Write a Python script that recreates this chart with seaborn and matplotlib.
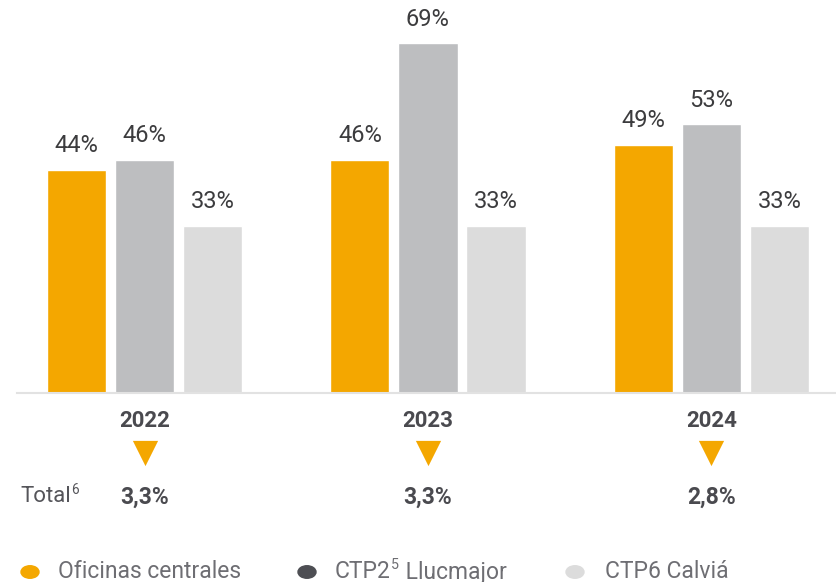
import matplotlib
matplotlib.use("Agg")
import matplotlib.pyplot as plt
import matplotlib.transforms as mtransforms
import seaborn as sns
import pandas as pd

years = ["2022", "2023", "2024"]
series = ["Oficinas centrales", "CTP2⁵ Llucmajor", "CTP6 Calviá"]
oficinas = [44, 46, 49]
ctp2 = [46, 69, 53]
ctp6 = [33, 33, 33]
totals = ["3,3%", "3,3%", "2,8%"]

bar_colors = ["#F4A700", "#BDBEC0", "#DCDCDC"]
legend_colors = ["#F4A700", "#4D4E53", "#DCDCDC"]

sns.set_theme(style="white")
plt.rcParams["font.family"] = ["Roboto", "DejaVu Sans"]

df = pd.DataFrame({
    "year": years * 3,
    "serie": [series[0]] * 3 + [series[1]] * 3 + [series[2]] * 3,
    "value": oficinas + ctp2 + ctp6,
})

W, H = 836, 582
fig = plt.figure(figsize=(W / 100, H / 100), dpi=100)
ax = fig.add_axes([17 / W, 1 - 393 / H, 1 - 17 / W, 393 / H])

sns.barplot(data=df, x="year", y="value", hue="serie", order=years,
            hue_order=series, palette=bar_colors, width=0.72, gap=0.13,
            saturation=1, legend=False, ax=ax)

for cont in ax.containers:
    ax.bar_label(cont, fmt="{:.0f}%", padding=9, fontsize=17, color="#3C3C3E")

ax.set_xlim(-0.45, 2.44)
ax.set_ylim(0, 77.5)
ax.set_xlabel("")
ax.set_ylabel("")
ax.set_yticks([])
for s in ["top", "left", "right"]:
    ax.spines[s].set_visible(False)
ax.spines["bottom"].set_color("#E2E2E2")
ax.spines["bottom"].set_linewidth(1.5)
ax.tick_params(axis="x", length=0, pad=12, labelsize=16, labelcolor="#4A4A4F")
for lbl in ax.get_xticklabels():
    lbl.set_fontweight("bold")

# triangles and totals below the axis
trans = mtransforms.blended_transform_factory(ax.transData, fig.transFigure)
xs = list(range(len(years)))
ax.scatter(xs, [1 - 453 / H] * 3, marker="v", s=330, color="#F4A700",
           transform=trans, clip_on=False, linewidths=0)
for x, t in zip(xs, totals):
    ax.text(x, 1 - 497 / H, t, transform=trans, ha="center", va="center",
            fontsize=16.5, fontweight="bold", color="#4A4A4F")

renderer = fig.canvas.get_renderer()


def text_with_sup(x_px, y_px, parts, size, color):
    """parts: list of (text, is_superscript)."""
    x = x_px
    for i, (txt, sup) in enumerate(parts):
        fs = size * 0.62 if sup else size
        yy = y_px - (size * 0.45 if sup else 0)
        t = fig.text(x / W, 1 - yy / H, txt, ha="left", va="center",
                     fontsize=fs, color=color)
        bb = t.get_window_extent(renderer=renderer)
        x += bb.width + 0.5


text_with_sup(20, 497, [("Total", False), ("6", True)], 16, "#55555A")

# legend
leg_x = [30, 307, 575]
txt_x = [58, 335, 605]
legend_parts = [
    [("Oficinas centrales", False)],
    [("CTP2", False), ("5", True), (" Llucmajor", False)],
    [("CTP6 Calviá", False)],
]
ly = 572
for lx, tx, c, parts in zip(leg_x, txt_x, legend_colors, legend_parts):
    fig.add_artist(matplotlib.patches.Circle((lx / W, 1 - ly / H), radius=9 / W,
                                             transform=fig.transFigure,
                                             color=c, clip_on=False))
    text_with_sup(tx, ly, parts, 16.5, "#6E6E73")

fig.savefig("out.png", dpi=100)
